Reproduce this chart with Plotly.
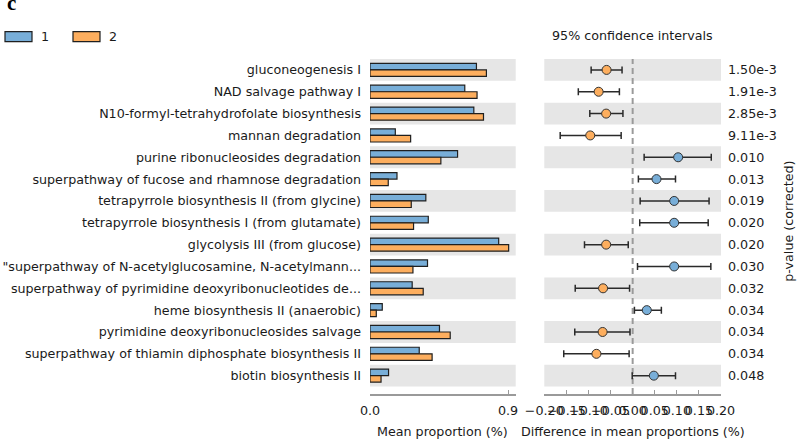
import plotly.graph_objects as go

W, H = 797, 439

pathways = [
    "gluconeogenesis I",
    "NAD salvage pathway I",
    "N10-formyl-tetrahydrofolate biosynthesis",
    "mannan degradation",
    "purine ribonucleosides degradation",
    "superpathway of fucose and rhamnose degradation",
    "tetrapyrrole biosynthesis II (from glycine)",
    "tetrapyrrole biosynthesis I (from glutamate)",
    "glycolysis III (from glucose)",
    "\"superpathway of N-acetylglucosamine, N-acetylmann...",
    "superpathway of pyrimidine deoxyribonucleotides de...",
    "heme biosynthesis II (anaerobic)",
    "pyrimidine deoxyribonucleosides salvage",
    "superpathway of thiamin diphosphate biosynthesis II",
    "biotin biosynthesis II",
]
group_names = ["1", "2"]
mean_g1 = [0.694, 0.618, 0.677, 0.165, 0.571, 0.176, 0.364, 0.380, 0.839,
           0.375, 0.275, 0.080, 0.453, 0.321, 0.121]
mean_g2 = [0.759, 0.698, 0.740, 0.265, 0.462, 0.119, 0.269, 0.284, 0.904,
           0.280, 0.347, 0.041, 0.523, 0.405, 0.072]
diff = [-0.059, -0.077, -0.060, -0.096, 0.103, 0.054, 0.094, 0.094, -0.060,
        0.094, -0.067, 0.032, -0.068, -0.082, 0.048]
ci_low = [-0.094, -0.123, -0.097, -0.164, 0.026, 0.013, 0.017, 0.016, -0.109,
          0.011, -0.130, 0.004, -0.131, -0.156, -0.001]
ci_high = [-0.024, -0.030, -0.022, -0.026, 0.178, 0.097, 0.173, 0.171, -0.010,
           0.177, -0.007, 0.065, -0.006, -0.008, 0.097]
p_values = ["1.50e-3", "1.91e-3", "2.85e-3", "9.11e-3", "0.010", "0.013", "0.019",
            "0.020", "0.020", "0.030", "0.032", "0.034", "0.034", "0.034", "0.048"]
prop_ticks = [0.0, 0.9]
prop_tick_text = ["0.0", "0.9"]
diff_ticks = [-0.20, -0.15, -0.10, -0.05, 0.0, 0.05, 0.10, 0.15, 0.20]
diff_tick_text = ["\u22120.20", "\u22120.15", "\u22120.10", "\u22120.05", "0.00",
                  "0.05", "0.10", "0.15", "0.20"]

BLUE = "#78AED8"
ORANGE = "#FDAE5E"
EDGE = "#1f1f1f"
STRIPE = "#E6E6E6"
TXT = "#1a1a1a"
FONT = "DejaVu Sans"
FS = 12.7

# pixel geometry
top_px, bot_px = 59.3, 394.3
L1, R1 = 370, 515.7
L2, R2 = 544.3, 721

fig = go.Figure()
fig.add_trace(go.Bar(y=pathways, x=mean_g1, orientation="h", name=group_names[0],
                     marker=dict(color=BLUE, line=dict(color=EDGE, width=1.2)),
                     xaxis="x", yaxis="y", showlegend=False))
fig.add_trace(go.Bar(y=pathways, x=mean_g2, orientation="h", name=group_names[1],
                     marker=dict(color=ORANGE, line=dict(color=EDGE, width=1.2)),
                     xaxis="x", yaxis="y", showlegend=False))

dot_colors = [BLUE if d > 0 else ORANGE for d in diff]
fig.add_trace(go.Scatter(
    y=pathways, x=diff, mode="markers", xaxis="x2", yaxis="y2", showlegend=False,
    marker=dict(color=dot_colors, size=9, line=dict(color="#333333", width=1)),
    error_x=dict(type="data", symmetric=False,
                 array=[h - d for h, d in zip(ci_high, diff)],
                 arrayminus=[d - l for d, l in zip(diff, ci_low)],
                 color="#2a2a2a", thickness=1.5, width=3.5),
))

n = len(pathways)
yrange = [n - 1 + 0.84, -0.5]

shapes = []
for i in range(0, n, 2):
    for xr in ("x domain", "x2 domain"):
        shapes.append(dict(type="rect", xref=xr, yref="y", x0=0, x1=1,
                           y0=i - 0.5, y1=i + 0.5, fillcolor=STRIPE,
                           line=dict(width=0), layer="below"))
shapes.append(dict(type="line", xref="x2", yref="y2 domain", x0=0, x1=0, y0=0, y1=1,
                   line=dict(color="#9a9a9a", width=2, dash="6px,4px"), layer="below"))

def px_x(x):
    return x / W

def px_y(y):
    return (bot_px - y) / (bot_px - top_px)

# manual legend
legend_items = [(5, 32, BLUE, group_names[0], 45), (73, 100, ORANGE, group_names[1], 113)]
annotations = []
for x0, x1, col, name, tx in legend_items:
    shapes.append(dict(type="rect", xref="paper", yref="paper",
                       x0=px_x(x0), x1=px_x(x1), y0=px_y(42), y1=px_y(32),
                       fillcolor=col, line=dict(color=EDGE, width=1.2)))
    annotations.append(dict(text=name, xref="paper", yref="paper", x=px_x(tx),
                            y=px_y(37), showarrow=False, xanchor="center",
                            yanchor="middle", font=dict(size=FS, color=TXT, family=FONT)))

annotations += [
    dict(text="<b>c</b>", xref="paper", yref="paper", x=px_x(5), y=px_y(3),
         showarrow=False, xanchor="left", yanchor="middle",
         font=dict(size=21, color="#000", family="Liberation Serif")),
    dict(text="95% confidence intervals", xref="paper", yref="paper",
         x=px_x((L2 + R2) / 2), y=px_y(36), showarrow=False, xanchor="center",
         yanchor="middle", font=dict(size=FS, color=TXT, family=FONT)),
    dict(text="Mean proportion (%)", xref="paper", yref="paper",
         x=px_x((L1 + R1) / 2), y=px_y(432), showarrow=False, xanchor="center",
         yanchor="middle", font=dict(size=FS, color=TXT, family=FONT)),
    dict(text="Difference in mean proportions (%)", xref="paper", yref="paper",
         x=px_x((L2 + R2) / 2), y=px_y(432), showarrow=False, xanchor="center",
         yanchor="middle", font=dict(size=FS, color=TXT, family=FONT)),
    dict(text="p-value (corrected)", xref="paper", yref="paper",
         x=px_x(789), y=px_y(222), showarrow=False, xanchor="center",
         yanchor="middle", textangle=-90, font=dict(size=FS, color=TXT, family=FONT)),
]

axis_font = dict(size=FS, color=TXT, family=FONT)
fig.update_layout(
    width=W, height=H,
    margin=dict(l=0, r=0, t=top_px, b=H - bot_px, pad=0),
    paper_bgcolor="white", plot_bgcolor="rgba(0,0,0,0)",
    barmode="group", bargap=0.4, bargroupgap=0,
    font=dict(family=FONT, size=FS, color=TXT),
    shapes=shapes, annotations=annotations,
    xaxis=dict(domain=[L1 / W, R1 / W], range=[0, 0.95], tickvals=prop_ticks,
               ticktext=prop_tick_text, ticks="inside", ticklen=4, tickwidth=1.2,
               tickcolor="#9a9a9a", showline=True, linecolor="#9a9a9a", linewidth=1.5,
               showgrid=False, zeroline=False, tickfont=axis_font, anchor="y",
               automargin=False, ticklabelstandoff=4, tickangle=0),
    yaxis=dict(domain=[0, 1], range=yrange, type="category",
               categoryarray=pathways, categoryorder="array",
               showgrid=False, zeroline=False, showline=False, ticks="",
               tickfont=axis_font, automargin=False, anchor="x",
               ticklabelstandoff=8),
    xaxis2=dict(domain=[L2 / W, R2 / W], range=[-0.2, 0.2], tickvals=diff_ticks,
                ticktext=diff_tick_text, ticks="inside", ticklen=4, tickwidth=1.2,
                tickcolor="#9a9a9a", showline=True, linecolor="#9a9a9a", linewidth=1.5,
                showgrid=False, zeroline=False, tickfont=axis_font, anchor="y2",
                automargin=False, ticklabelstandoff=4, tickangle=0),
    yaxis2=dict(domain=[0, 1], range=yrange, type="category",
                categoryarray=pathways, categoryorder="array",
                tickvals=pathways, ticktext=p_values, side="right",
                showgrid=False, zeroline=False, showline=False, ticks="",
                tickfont=axis_font, automargin=False, anchor="x2",
                ticklabelstandoff=6),
)

fig.write_html("out.html", config={"displayModeBar": False},
               post_script="document.body.style.margin='0';document.body.style.overflow='hidden';")
